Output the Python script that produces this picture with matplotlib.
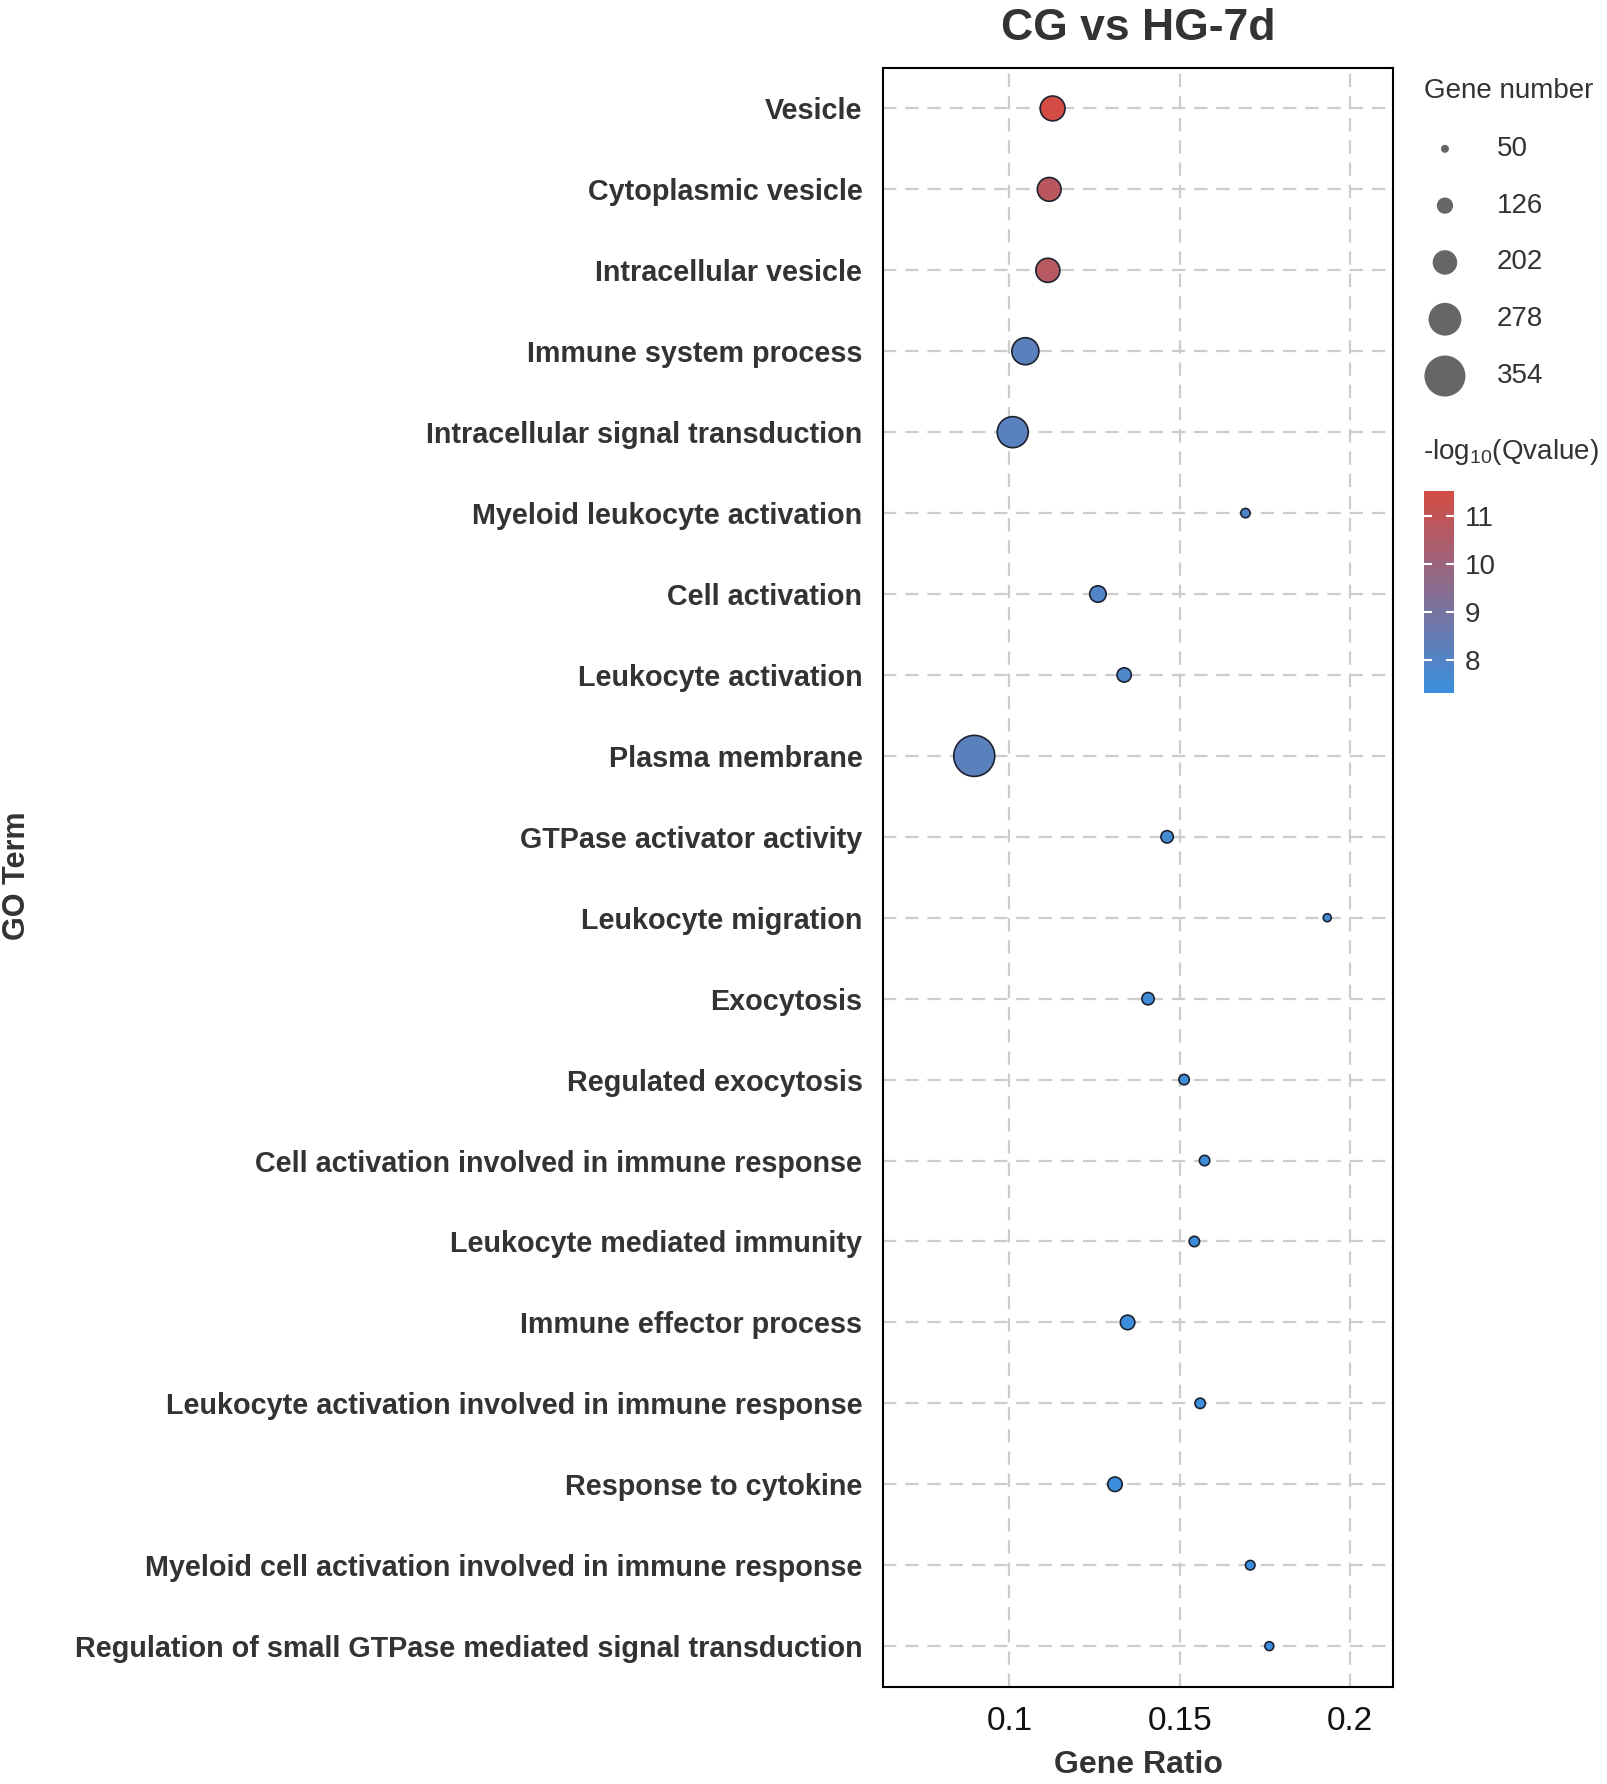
import numpy as np
import matplotlib
matplotlib.use('Agg')
import matplotlib.pyplot as plt
from matplotlib.colors import LinearSegmentedColormap, Normalize

plt.rcParams['font.family'] = ['Liberation Sans', 'DejaVu Sans']
plt.rcParams['mathtext.default'] = 'regular'

# GO terms, top to bottom as drawn
terms = [
    'Vesicle',
    'Cytoplasmic vesicle',
    'Intracellular vesicle',
    'Immune system process',
    'Intracellular signal transduction',
    'Myeloid leukocyte activation',
    'Cell activation',
    'Leukocyte activation',
    'Plasma membrane',
    'GTPase activator activity',
    'Leukocyte migration',
    'Exocytosis',
    'Regulated exocytosis',
    'Cell activation involved in immune response',
    'Leukocyte mediated immunity',
    'Immune effector process',
    'Leukocyte activation involved in immune response',
    'Response to cytokine',
    'Myeloid cell activation involved in immune response',
    'Regulation of small GTPase mediated signal transduction',
]
gene_ratio = [0.1127, 0.1117, 0.1113, 0.1047, 0.1010, 0.1693, 0.1260, 0.1337,
              0.0897, 0.1463, 0.1933, 0.1407, 0.1513, 0.1573, 0.1543, 0.1347,
              0.1560, 0.1310, 0.1707, 0.1763]
gene_number = [205, 195, 198, 225, 262, 62, 128, 108, 354, 90, 50, 90, 72, 72,
               72, 110, 72, 110, 64, 58]
neg_log_q = [11.52, 10.80, 10.75, 8.22, 8.18, 7.90, 7.95, 7.90, 8.20, 7.60,
             7.60, 7.50, 7.45, 7.45, 7.42, 7.40, 7.40, 7.36, 7.35, 7.31]

size_breaks = [50, 126, 202, 278, 354]
q_ticks = [8, 9, 10, 11]
x_ticks = [0.1, 0.15, 0.2]
x_tick_labels = ['0.1', '0.15', '0.2']

LOW_COLOR = '#3A8FDE'
HIGH_COLOR = '#D44C44'
TXT = '#333333'


def diam_px(n):
    # point diameter in pixels grows linearly with gene number
    return 8 + (np.asarray(n, dtype=float) - 50) * 0.1086


def area_pt(n):
    return (diam_px(n) * 0.72) ** 2


cmap = LinearSegmentedColormap.from_list('q', [LOW_COLOR, HIGH_COLOR])
norm = Normalize(vmin=min(neg_log_q), vmax=max(neg_log_q))

fig = plt.figure(figsize=(16.08, 17.84), dpi=100)
ax = fig.add_axes([0.5493, 0.0546, 0.3172, 0.9073])

y = np.arange(len(terms))
ax.set_axisbelow(True)
ax.grid(True, color='#CCCCCC', linewidth=1.6, linestyle=(0, (6, 4)))
sc = ax.scatter(gene_ratio, y, s=area_pt(gene_number), c=neg_log_q, cmap=cmap,
                norm=norm, edgecolors='#1E2230', linewidths=1.2, zorder=3)

ax.set_xlim(0.063, 0.2127)
ax.set_ylim(len(terms) - 0.5, -0.5)
ax.set_xticks(x_ticks)
ax.set_xticklabels(x_tick_labels, fontsize=24, color='#111111')
ax.set_yticks(y)
ax.set_yticklabels(terms, fontsize=20.7, fontweight='bold', color=TXT)
ax.tick_params(axis='both', length=0)
ax.tick_params(axis='x', pad=14)
ax.tick_params(axis='y', pad=15)
for sp in ax.spines.values():
    sp.set_linewidth(1.5)
    sp.set_color('black')

ax.set_xlabel('Gene Ratio', fontsize=23, fontweight='bold', color=TXT, labelpad=9)
fig.text(0.0106, 0.509, 'GO Term', rotation=90, fontsize=22, fontweight='bold',
         color=TXT, ha='center', va='center')
ax.set_title('CG vs HG-7d', fontsize=32, fontweight='bold', color=TXT, pad=20)

# size legend
fig.text(1424 / 1608, 1 - 91 / 1784, 'Gene number', fontsize=20, color=TXT,
         ha='left', va='center')
ax_size = fig.add_axes([0.8818, 0.7733, 0.1182, 0.1592])
ax_size.set_xlim(0, 190)
ax_size.set_ylim(len(size_breaks) - 0.5, -0.5)
ax_size.axis('off')
ax_size.scatter(np.full(len(size_breaks), 27), np.arange(len(size_breaks)),
                s=area_pt(size_breaks), color='#666666', linewidths=0)
for i, b in enumerate(size_breaks):
    ax_size.text(79, i, str(b), fontsize=20, color=TXT, ha='left', va='center')

# colour bar
fig.text(1423 / 1608, 1 - 452 / 1784, r'-log$_{10}$(Qvalue)', fontsize=20,
         color=TXT, ha='left', va='center')
cax = fig.add_axes([0.8855, 0.6115, 0.0187, 0.1133])
cbar = fig.colorbar(sc, cax=cax, ticks=q_ticks)
cbar.outline.set_visible(False)
cax.yaxis.set_ticks_position('both')
cax.tick_params(axis='y', direction='in', color='white', width=1.5, length=6,
                labelsize=20, labelcolor=TXT, pad=8, labelleft=False,
                labelright=True)

fig.savefig('out.png', dpi=100)
